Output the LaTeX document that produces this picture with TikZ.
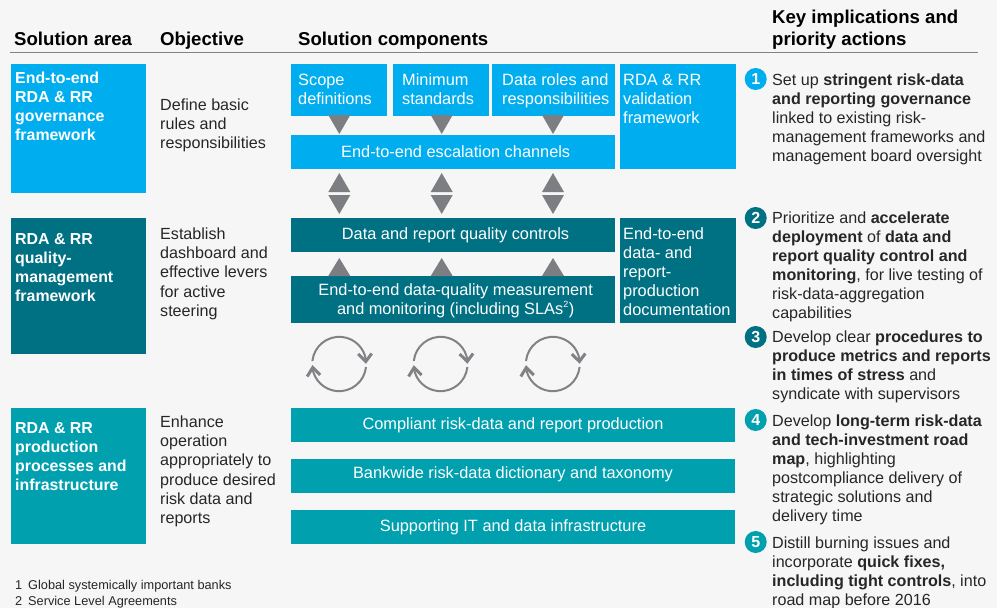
\documentclass[tikz,border=0pt]{standalone}
\usepackage{fontspec}
\setmainfont{Liberation Sans}
\definecolor{bgc}{HTML}{F6F6F6}
\definecolor{blueA}{HTML}{00AEEF}
\definecolor{tealD}{HTML}{007083}
\definecolor{tealL}{HTML}{00A0AF}
\definecolor{grayT}{HTML}{7D7E82}
\definecolor{grayR}{HTML}{808285}
\definecolor{inkT}{HTML}{262626}
\newcommand{\mylines}[1]{\begin{tabular}[t]{@{}l@{}}#1\end{tabular}}
\newcommand{\mybox}[6]{\path[fill=#6] (#2,#3) rectangle (#4,#5) node[midway,inner sep=0pt] (#1) {};}
\newcommand{\tridown}[3]{\fill[grayT] (#1-11,#2) -- (#1+11,#2) -- (#1,#3) -- cycle;}
\newcommand{\triup}[3]{\fill[grayT] (#1-11,#2) -- (#1+11,#2) -- (#1,#3) -- cycle;}
\newcommand{\cyc}[1]{%
  \draw[cycline] (#1-26.8,361) arc[start angle=174,end angle=8,radius=27pt];
  \draw[cychead] (#1+19,354) -- (#1+26.6,361.5) -- (#1+32.5,353.5);
  \draw[cycline] (#1+26.8,367) arc[start angle=-6,end angle=-172,radius=27pt];
  \draw[cychead] (#1-32,376.5) -- (#1-26.5,367.5) -- (#1-19,375);
}
\tikzset{
  x=1pt,y=-1pt,
  body/.style={anchor=base west,inner sep=0pt,text=inkT,font=\fontsize{16.12}{19}\selectfont},
  objtext/.style={anchor=base west,inner sep=0pt,text=inkT,font=\fontsize{16.12}{19.35}\selectfont},
  head/.style={anchor=base west,inner sep=0pt,text=black,font=\fontsize{18.6}{22}\selectfont\bfseries},
  areatext/.style={anchor=base west,inner sep=0pt,text=white,font=\fontsize{15.9}{19.15}\selectfont\bfseries},
  comp/.style={anchor=base west,inner sep=0pt,text=white,font=\fontsize{16.35}{19}\selectfont},
  compc/.style={anchor=base,inner sep=0pt,text=white,font=\fontsize{16.35}{19}\selectfont},
  notetext/.style={anchor=base west,inner sep=0pt,text=inkT,font=\fontsize{12.75}{16}\selectfont},
  numdot/.style={circle,inner sep=0pt,minimum size=22pt,text=white,font=\fontsize{16}{19}\selectfont\bfseries},
  cycline/.style={draw=grayR,line width=2pt},
  cychead/.style={draw=grayR,line width=3pt,line join=miter},
}
\begin{document}
\begin{tikzpicture}
\useasboundingbox (0,0) rectangle (997,608);
\fill[bgc] (0,0) rectangle (997,608);
% headers
\node[head] (hArea) at (14,45) {Solution area};
\node[head] (hObj) at (160,45) {Objective};
\node[head] (hComp) at (298,45) {Solution components};
\node[head] (hKey) at (772,23) {\mylines{Key implications and\\[0pt]priority actions}};
\coordinate (ruleL) at (10,52.5);
\coordinate (ruleR) at (978,52.5);
\draw[grayR,line width=0.9pt] (ruleL) -- (ruleR);
% solution-area boxes
\mybox{areaA}{11}{64}{146}{193}{blueA}
\mybox{areaB}{11}{218}{146}{354}{tealD}
\mybox{areaC}{11}{408}{146}{544}{tealL}
\node[areatext] (areaAt) at (15,83) {\mylines{End-to-end\\RDA \& RR\\governance\\framework}};
\node[areatext] (areaBt) at (15,244) {\mylines{RDA \& RR\\quality-\\management\\framework}};
\node[areatext] (areaCt) at (15,433.5) {\mylines{RDA \& RR\\production\\processes and\\infrastructure}};
% objectives
\node[objtext] (objA) at (160,110) {\mylines{Define basic\\rules and\\responsibilities}};
\node[objtext] (objB) at (160,239) {\mylines{Establish\\dashboard and\\effective levers\\for active\\steering}};
\node[objtext] (objC) at (160,427) {\mylines{Enhance\\operation\\appropriately to\\produce desired\\risk data and\\reports}};
% components
\mybox{scopeB}{291}{64}{387}{116}{blueA}
\mybox{minB}{393}{64}{489}{116}{blueA}
\mybox{rolesB}{492}{64}{615}{116}{blueA}
\mybox{valB}{620}{64}{736}{169}{blueA}
\mybox{escB}{291}{135}{615}{169}{blueA}
\mybox{qualB}{291}{218}{615}{252}{tealD}
\mybox{measB}{291}{276}{615}{323}{tealD}
\mybox{docB}{620}{218}{736}{323}{tealD}
\mybox{barA}{291}{408}{735}{442}{tealL}
\mybox{barB}{291}{459}{735}{493}{tealL}
\mybox{barC}{291}{510}{735}{544}{tealL}
\node[comp] (scopeT) at (298,85) {\mylines{Scope\\definitions}};
\node[comp] (minT) at (402,85) {\mylines{Minimum\\standards}};
\node[comp] (rolesT) at (502,85) {\mylines{Data roles and\\responsibilities}};
\node[comp] (valT) at (623,85) {\mylines{RDA \& RR\\validation\\framework}};
\node[compc] (escT) at (455.7,157) {End-to-end escalation channels};
\node[compc] (qualT) at (455.5,239) {Data and report quality controls};
\node[compc] (measT1) at (455.7,295) {End-to-end data-quality measurement};
\node[compc] (measT2) at (455.7,314) {and monitoring (including SLAs\textsuperscript{\fontsize{9}{9}\selectfont 2})};
\node[comp] (docT) at (623,239) {\mylines{End-to-end\\data- and\\report-\\production\\documentation}};
\node[compc] (barAt) at (513,429) {Compliant risk-data and report production};
\node[compc] (barBt) at (513,478) {Bankwide risk-data dictionary and taxonomy};
\node[compc] (barCt) at (513,531) {Supporting IT and data infrastructure};
% triangles
\foreach \tx in {339.3,441.7,553}{
  \tridown{\tx}{115}{134}
  \triup{\tx}{192}{173}
  \tridown{\tx}{195}{214}
  \triup{\tx}{276}{258}
}
% cycles
\cyc{339.2}
\cyc{440.6}
\cyc{552.8}
% implications
\node[numdot,fill=blueA] (n1) at (755.7,79) {1};
\node[numdot,fill=tealD] (n2) at (755.7,218) {2};
\node[numdot,fill=tealD] (n3) at (755.7,337) {3};
\node[numdot,fill=tealL] (n4) at (755.7,420) {4};
\node[numdot,fill=tealL] (n5) at (755.7,542) {5};
\node[body] (t1) at (772,85) {\mylines{Set up \textbf{stringent risk-data}\\\textbf{and reporting governance}\\linked to existing risk-\\management frameworks and\\management board oversight}};
\node[body] (t2) at (772,223) {\mylines{Prioritize and \textbf{accelerate}\\\textbf{deployment} of \textbf{data and}\\\textbf{report quality control and}\\\textbf{monitoring}, for live testing of\\risk-data-aggregation\\capabilities}};
\node[body] (t3) at (772,342) {\mylines{Develop clear \textbf{procedures to}\\\textbf{produce metrics and reports}\\\textbf{in times of stress} and\\syndicate with supervisors}};
\node[body] (t4) at (772,426) {\mylines{Develop \textbf{long-term risk-data}\\\textbf{and tech-investment road}\\\textbf{map}, highlighting\\postcompliance delivery of\\strategic solutions and\\delivery time}};
\node[body] (t5) at (772,548) {\mylines{Distill burning issues and\\incorporate \textbf{quick fixes,}\\\textbf{including tight controls}, into\\road map before 2016}};
% footnotes
\node[notetext] (fn1a) at (15,589) {1};
\node[notetext] (fn1b) at (28,589) {Global systemically important banks};
\node[notetext] (fn2a) at (15,605) {2};
\node[notetext] (fn2b) at (28,605) {Service Level Agreements};
\end{tikzpicture}
\end{document}
